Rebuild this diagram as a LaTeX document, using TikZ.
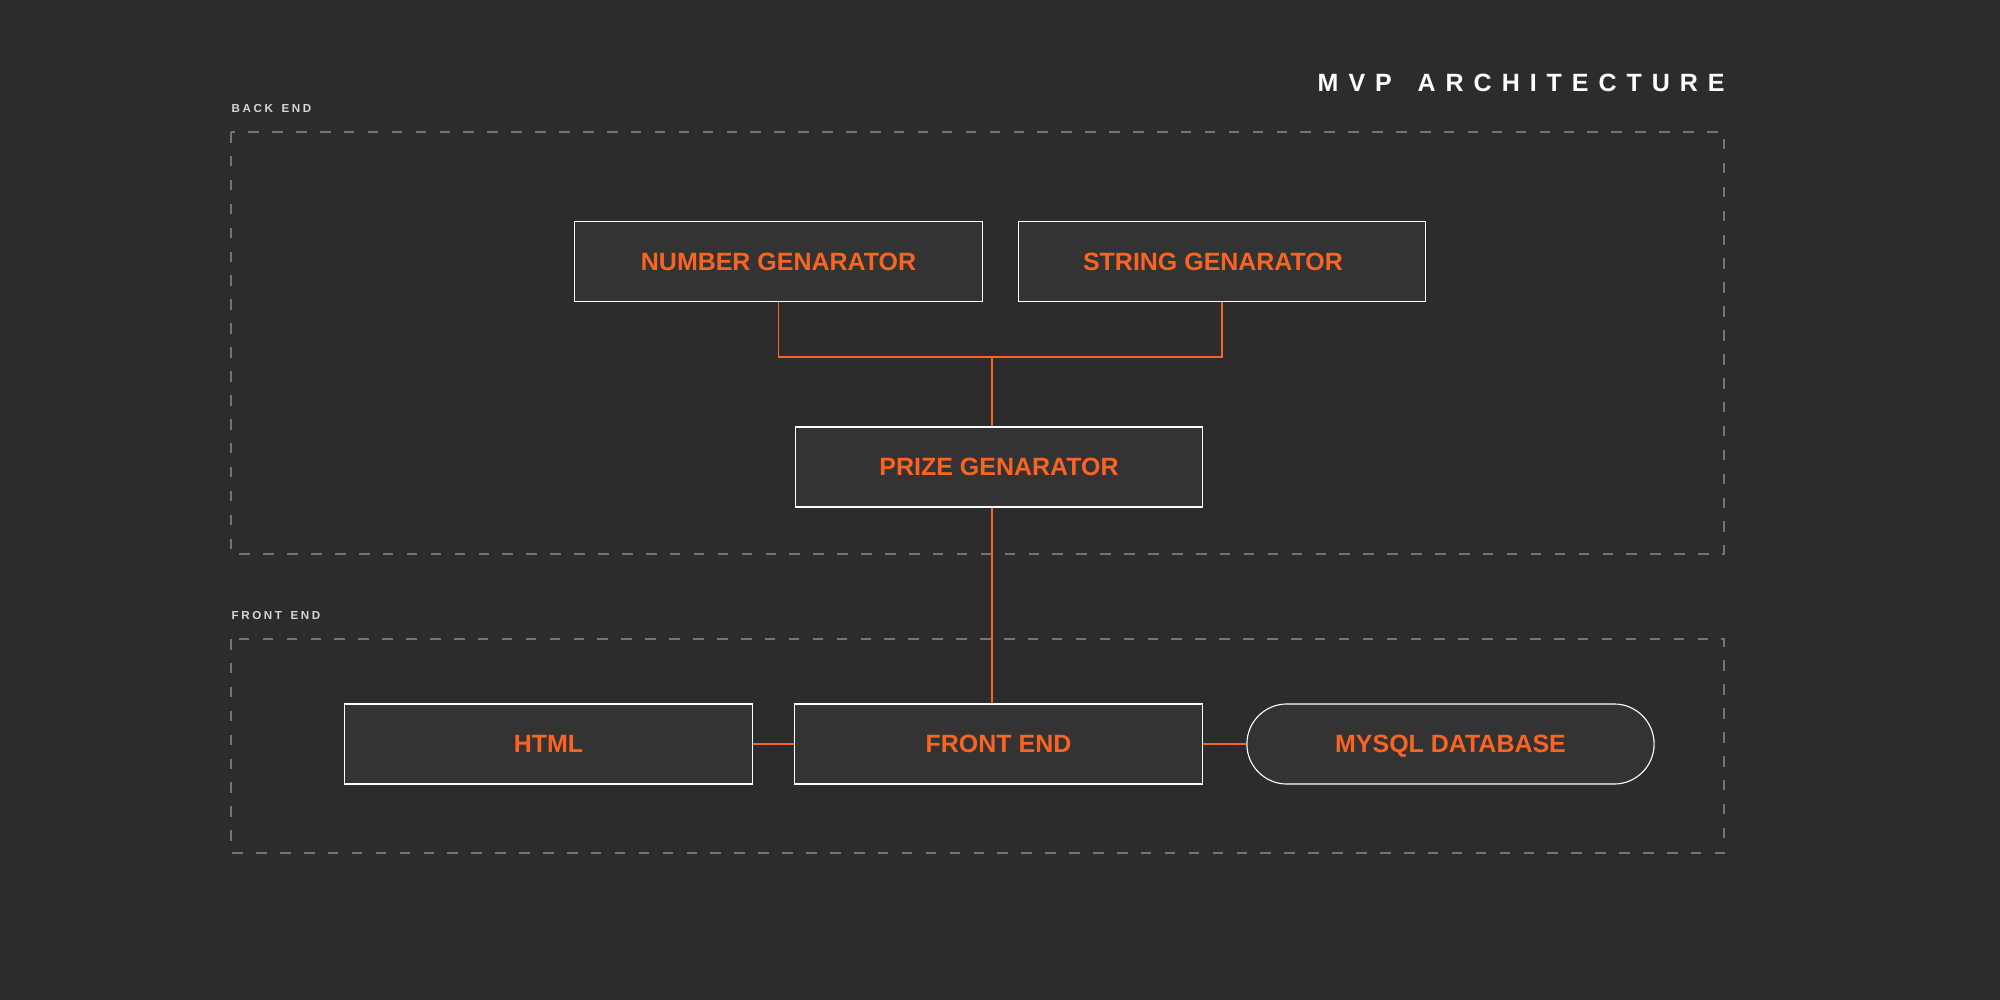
\documentclass[tikz,border=0pt]{standalone}
\usepackage{fontspec}
\setmainfont{Liberation Sans}
\newfontfamily\titlefont[LetterSpace=40]{Liberation Sans}
\newfontfamily\labelfont[LetterSpace=22]{Liberation Sans}
\definecolor{bg}{HTML}{2C2C2C}
\definecolor{boxfill}{HTML}{333333}
\definecolor{accent}{HTML}{FA6423}
\definecolor{dashgrey}{HTML}{747474}
\definecolor{labelgrey}{HTML}{D6D6D6}
\begin{document}
\begin{tikzpicture}[x=0.01cm,y=-0.01cm,
  compbox/.style={draw=white, line width=0.32pt, fill=boxfill, minimum width=4.07cm, minimum height=0.80cm, inner sep=0pt, text height=5.1pt, text depth=0pt, text=accent, font=\fontsize{7.1pt}{8pt}\selectfont\bfseries},
  dbbox/.style={compbox, rounded corners=0.4cm},
  region/.style={draw=dashgrey, line width=0.3pt, dash pattern=on 3pt off 3.8pt},
  link/.style={draw=accent, line width=0.55pt},
  regionlabel/.style={anchor=base west, inner sep=0pt, text=labelgrey, font=\labelfont\fontsize{3.3pt}{4pt}\selectfont\bfseries}
]
\fill[bg] (0,0) rectangle (2000,1000);
\useasboundingbox (0,0) rectangle (2000,1000);

% regions
\draw[region] (231,132) rectangle (1724,554);
\draw[region] (231,639) rectangle (1724,853);
\node[regionlabel] (lblback) at (231,112.7) {BACK\hspace{0.03cm} END};
\node[regionlabel] (lblfront) at (231,619) {FRONT\hspace{0.03cm} END};

% title
\node[anchor=base west, inner sep=0pt, text=white, font=\titlefont\fontsize{7.1pt}{8pt}\selectfont\bfseries] (title) at (1317,91) {MVP\hspace{0.09cm} ARCHITECTURE};

% components
\node[compbox] (ng) at (778.5,261.5) {NUMBER GENARATOR};
\node[compbox] (sg) at (1222,261.5) {\hspace*{-0.18cm}STRING GENARATOR};
\node[compbox] (pg) at (999,467) {PRIZE GENARATOR};
\node[compbox] (html) at (548.5,744) {HTML};
\node[compbox] (fe) at (998.5,744) {FRONT END};
\node[dbbox] (db) at (1450.5,744) {MYSQL DATABASE};

% connectors
\coordinate (j) at (992,357);
\draw[link] (ng.south) |- (j) -| (sg.south);
\draw[link] (j) -- (j |- pg.north);
\draw[link] (pg.south -| j) -- (fe.north -| j);
\draw[link] (html.east) -- (fe.west);
\draw[link] (fe.east) -- (db.west);
\end{tikzpicture}
\end{document}
